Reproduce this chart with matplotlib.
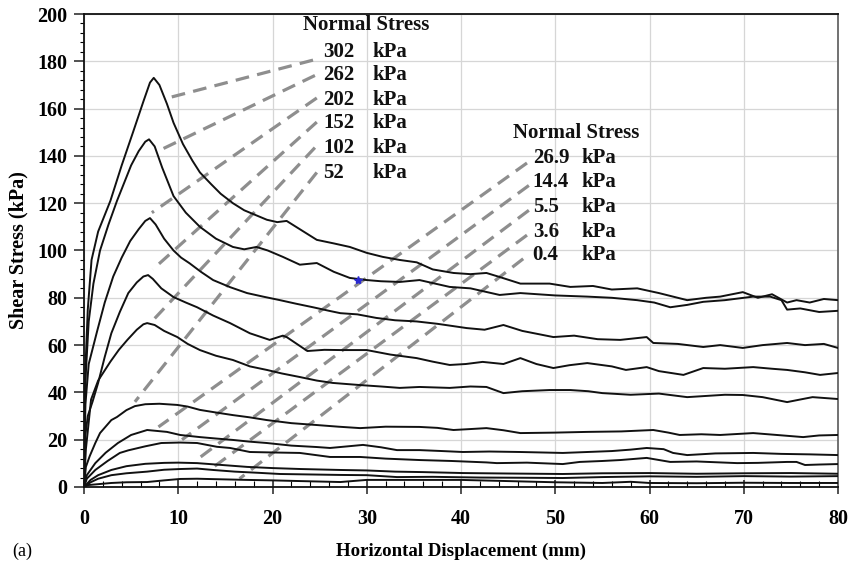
import matplotlib
matplotlib.use("Agg")
import matplotlib.pyplot as plt
from matplotlib.ticker import MultipleLocator

plt.rcParams['font.family'] = ['Liberation Serif', 'DejaVu Serif']

# ---------------- data ----------------
x302 = [0, 0.15, 0.4, 0.8, 1.5, 2.8, 4, 5.2, 6.3, 7.0, 7.4, 8, 8.8, 9.5, 10.5, 11.5, 12.3, 13.5, 14.5,
        15.8, 17, 18.2, 19.4, 20.5, 21.5, 22.9, 24.7, 26.5, 28.2, 30, 31.7, 33.5, 35.3, 37, 39.2, 41,
        42.7, 44.1, 46.3, 49.4, 51.6, 54, 56, 58.7, 61, 64, 66, 67.5, 69.9, 71.5, 73, 74.6, 75.6, 77,
        78.5, 80]
y302 = [0, 50, 75, 96, 108, 121, 136, 150, 163, 171, 173, 170, 162, 154, 145, 138, 133, 128, 124,
        120, 117, 115, 113, 112, 112.5, 109, 104.5, 103, 101.5, 99, 97.3, 96, 95, 92, 90.5, 90,
        90.5, 88.8, 86, 86, 84.6, 85, 83.5, 84, 82, 79, 80, 80.5, 82.4, 80, 81.5, 78, 79, 78,
        79.5, 79]

x262 = [0, 0.15, 0.5, 1.0, 1.7, 2.6, 3.5, 4.3, 5.0, 5.8, 6.5, 6.9, 7.5, 8.3, 9.5, 10.8, 12.3, 14,
        15.8, 17, 18.3, 19.5, 21.1, 22.9, 24.7, 26.5, 28.2, 30, 31.5, 33.5, 35.6, 38.8, 41, 44.1,
        46.3, 50, 53.4, 56, 58.7, 60.5, 62.2, 64, 65.7, 68, 71, 72.8, 74, 74.6, 76, 78, 80]
y262 = [0, 45, 70, 86, 100, 111, 121, 129, 136, 142, 146, 147, 144, 135, 123, 116, 110, 105,
        101.5, 100.5, 101.5, 100, 97.3, 94, 94.7, 91, 88.4, 87.5, 87, 86.7, 87.5, 84.6, 84, 81.2,
        82, 81, 80.5, 80, 79, 78, 76, 77, 78.3, 79, 80.5, 80.5, 79, 75, 75.5, 74, 74.5]

x202 = [0, 0.15, 0.5, 1.4, 2.2, 3.1, 4.0, 4.9, 5.8, 6.5, 7.0, 7.6, 8.5, 9.5, 10.3, 11.2, 12.4, 13.7,
        15.5, 17.3, 19, 20.8, 22.5, 24.3, 26, 27.2, 29, 31, 33, 35.3, 37.5, 40.6, 42.5, 44.5, 46.5,
        49.8, 52, 54.5, 56.9, 59.7, 60.4, 63, 65.7, 67.5, 69.9, 72, 74.6, 76.5, 78.5, 80]
y202 = [0, 35, 52, 66, 78, 89, 97, 104, 109, 112.5, 113.7, 111, 105, 100, 97, 94.6, 91, 87.5,
        84.5, 82, 80.5, 79, 77.5, 76, 74.5, 73.5, 73, 71.5, 70.5, 70, 69, 67.2, 66.5, 68.5, 66,
        63.4, 64, 62.5, 62.2, 63.4, 60.9, 60.5, 59.2, 60, 58.8, 60, 60.9, 60, 60.5, 58.8]

x152 = [0, 0.15, 0.4, 0.9, 1.5, 2.2, 2.9, 3.8, 4.7, 5.6, 6.3, 6.8, 7.3, 8.2, 9.5, 10.8, 12, 13.7,
        15.5, 17.6, 19.7, 21.1, 21.5, 23.7, 25.5, 27.2, 30, 32.5, 35.3, 37, 38.8, 40.5, 42.3, 44.5,
        46.3, 48, 49.8, 51.5, 53.4, 56, 57.5, 59.7, 61, 63.6, 65.7, 68, 71, 73, 74.6, 76.5, 78.1, 80]
y152 = [0, 22, 30, 36, 44, 55, 65, 74, 82, 86.5, 89, 89.6, 88, 84, 80.3, 78, 76, 72.5,
        69.3, 65, 62.2, 64, 63.4, 57.5, 58, 57.9, 57.9, 56, 54.5, 53, 51.6, 52, 52.9, 52,
        54.5, 52, 50.3, 51.5, 52.4, 51, 49.5, 50.7, 49, 47.4, 50.3, 50, 50.7, 50, 49.5, 48.5, 47.4, 48.2]

x102 = [0, 0.2, 0.75, 1.5, 2.8, 3.7, 4.6, 5.6, 6.3, 6.7, 7.5, 8.5, 9.9, 11, 12.3, 14, 15.8, 17.6,
        19.4, 21, 22.9, 24.7, 26.4, 28, 29.3, 31.5, 33.5, 35.6, 38.8, 41, 42.7, 44.5, 46.5, 49.4,
        51.6, 53.5, 55, 58, 61, 64, 66, 68, 69.9, 72, 74.6, 76, 77.3, 80]
y102 = [0, 16, 37, 45, 53, 58, 62.2, 66.5, 68.8, 69.3, 68.5, 66, 63.4, 60.5, 57.9, 55.5, 53.7, 51,
        49.5, 48, 46.5, 45, 44, 43.5, 43.1, 42.5, 41.9, 42.3, 41.9, 42.5, 42.3, 39.7, 40.5, 41,
        41, 40.5, 39.7, 39, 39.5, 38, 38.5, 39, 38.9, 38, 35.9, 37, 38, 37.2]

x52 = [0, 0.2, 0.6, 1.2, 1.7, 2.9, 3.5, 4.5, 5.4, 6.5, 8, 9.9, 11, 12.3, 14, 15.8, 17.5, 19.4, 22,
       24.7, 27, 29.3, 32, 35.6, 37.5, 39.2, 41, 42.7, 44.5, 46.3, 50, 53.4, 57, 60.4, 62, 63.2,
       65.5, 67.5, 71, 73.5, 76.3, 78, 80]
y52 = [0, 8.5, 13, 18.6, 22.8, 28.3, 29.6, 32.5, 34.2, 35, 35.2, 34.7, 34, 32.6, 31.5, 30.4, 29.5,
       28.3, 27, 26.2, 25.5, 24.9, 25.5, 25.4, 25, 24.1, 24.5, 24.9, 24, 22.8, 23, 23.3, 23.5,
       24.1, 23, 22, 22.3, 22, 22.8, 22, 21.1, 21.8, 22]

x269 = [0, 0.3, 1.2, 2.3, 3.6, 5, 6.7, 8.8, 10.2, 12.3, 14, 15.8, 17.5, 19.4, 22, 24.7, 26.1, 28,
        29.6, 31.5, 33.2, 35.6, 38, 40.2, 43, 46.3, 50.8, 53.4, 56, 58, 59.7, 61.5, 62.5, 64, 67,
        71, 74, 77, 80]
y269 = [0, 5, 10.1, 14.5, 18.6, 22, 24.1, 23.3, 22, 21.1, 20.5, 19.9, 19.2, 18.6, 17.5, 16.9,
        16.5, 17.2, 17.8, 16.8, 15.6, 15.6, 15.2, 14.8, 15, 14.8, 14.4, 14.8, 15.2, 15.8, 16.5, 16,
        14.4, 13.5, 14.2, 14.4, 14, 13.8, 13.5]

x144 = [0, 0.3, 1.2, 2.5, 3.8, 4.7, 6.5, 8.2, 10.2, 12, 14.1, 15.5, 17.6, 20, 22.9, 26.1, 29.3, 32,
        35.6, 39, 42.7, 43.8, 47, 50.8, 52.6, 55, 56.9, 59.7, 62.2, 65, 69.3, 71.5, 74.6, 75.6,
        76.5, 78, 80]
y144 = [0, 3.5, 7.2, 11, 14.4, 15.5, 17.2, 18.6, 18.8, 18.6, 17, 16.5, 14.8, 14.6, 14.4, 12.7,
        12.7, 12, 11.4, 11, 10.4, 10.1, 10.3, 9.7, 10.6, 11, 11.4, 12.3, 10.6, 10.8, 10.1, 10.2,
        10.6, 10.6, 9.3, 9.5, 9.7]

x55 = [0, 0.7, 1.5, 2.9, 4.5, 6.5, 8.5, 10, 12, 14, 17.3, 20, 23, 27.2, 30, 33, 36, 40.2, 45,
       50.8, 55, 60, 65, 70, 75, 80]
y55 = [0, 3, 5, 7.2, 8.8, 9.8, 10.2, 10.3, 10.1, 9.5, 8.5, 8, 7.6, 7.2, 7, 6.5, 6.3, 5.9, 5.7,
       5.5, 5.8, 5.9, 5.6, 5.8, 5.9, 5.6]

x36 = [0, 0.7, 1.5, 2.9, 4.5, 6.7, 8.5, 10.2, 12, 13.7, 16, 18.5, 20.8, 24, 27.2, 30, 33.2, 37,
       42, 47, 50.8, 55, 60, 65, 70, 75, 80]
y36 = [0, 2, 3.5, 5, 5.8, 6.5, 7.3, 7.6, 7.8, 7.2, 6.5, 6, 5.5, 5.3, 5.1, 5, 4.2, 4.3, 4, 3.9,
       3.8, 4.2, 4.5, 4.3, 4.6, 4.4, 4.6]

x04 = [0, 0.4, 1.5, 2.9, 4.5, 6.7, 8.5, 10.2, 12, 14, 17.3, 20, 23, 27.2, 30, 35, 40, 45, 50, 55,
       58, 60, 65, 70, 75, 80]
y04 = [0, 0.8, 1.2, 1.7, 2, 2.1, 2.8, 3.4, 3.5, 3.3, 3, 2.8, 2.5, 2.1, 3, 3, 3, 2.5, 2, 1.7,
       2.2, 1.7, 1.6, 1.8, 1.7, 1.7]

curves = [(x302, y302), (x262, y262), (x202, y202), (x152, y152), (x102, y102), (x52, y52),
          (x269, y269), (x144, y144), (x55, y55), (x36, y36), (x04, y04)]

# legend-like labels
high_labels = ["302", "262", "202", "152", "102", "52"]
low_labels = ["26.9", "14.4", "5.5", "3.6", "0.4"]
high_rows = [183.9, 174.2, 163.6, 153.9, 143.3, 132.8]
low_rows = [139.1, 129.0, 118.4, 107.8, 98.1]

# leader lines (label end -> curve end)
high_leaders = [((24.3, 180.5), (8.9, 164.5)), ((24.5, 174.0), (8.1, 142.5)),
                ((24.7, 164.5), (7.2, 116.0)), ((24.7, 154.3), (7.3, 92.0)),
                ((24.5, 143.5), (7.2, 70.0)), ((24.7, 133.0), (5.4, 36.0))]
low_leaders = [((47.0, 137.0), (7.9, 25.4)), ((47.2, 127.5), (10.4, 20.0)),
               ((47.2, 117.0), (11.8, 11.0)), ((47.0, 106.5), (13.7, 8.3)),
               ((46.6, 96.5), (16.5, 3.5))]

marker_pt = (29.1, 87.5)

# ---------------- figure ----------------
fig = plt.figure(figsize=(8.51, 5.62), dpi=100)
ax = fig.add_axes([84/851, 75/562, (838-84)/851, (487-14)/562])

ax.set_xlim(0, 80)
ax.set_ylim(0, 200)
ax.xaxis.set_major_locator(MultipleLocator(10))
ax.xaxis.set_minor_locator(MultipleLocator(2))
ax.yaxis.set_major_locator(MultipleLocator(20))
ax.yaxis.set_minor_locator(MultipleLocator(4))
ax.grid(True, which='major', color='#d6d6d6', linewidth=0.9, zorder=0)
ax.set_axisbelow(True)

for (p0, p1) in high_leaders + low_leaders:
    ax.plot([p0[0], p1[0]], [p0[1], p1[1]], color='#8e8e8e', linewidth=2.3,
            dashes=(4.3, 2.6), solid_capstyle='butt', dash_capstyle='butt', zorder=2)

for xs, ys in curves:
    ax.plot(xs, ys, color='#111111', linewidth=1.4, zorder=3)

ax.plot([marker_pt[0]], [marker_pt[1]], marker='*', color='#2a2ad0', markersize=6, zorder=4)

bold = dict(fontweight='bold', fontsize=15, color='#111111', va='center')
ax.text(23.2, 195.3, "Normal Stress", ha='left', **bold)
for lab, yy in zip(high_labels, high_rows):
    ax.text(25.4, yy, lab, ha='left', **bold)
    ax.text(30.6, yy, "kPa", ha='left', **bold)
ax.text(45.5, 149.7, "Normal Stress", ha='left', **bold)
for lab, yy in zip(low_labels, low_rows):
    ax.text(47.6, yy, lab, ha='left', **bold)
    ax.text(52.8, yy, "kPa", ha='left', **bold)

ax.tick_params(axis='both', which='major', labelsize=14.5, width=1.1, color='#222222')
ax.tick_params(axis='x', which='major', direction='inout', length=10, pad=11)
ax.tick_params(axis='y', which='major', direction='out', length=7, pad=5)
ax.tick_params(axis='x', which='minor', direction='in', length=4, width=0.8)
ax.tick_params(axis='y', which='minor', direction='out', length=3, width=0.8)
for lab in ax.get_xticklabels() + ax.get_yticklabels():
    lab.set_fontweight('bold')

for s in ['left', 'bottom', 'top']:
    ax.spines[s].set_color('#111111')
    ax.spines[s].set_linewidth(1.3)
ax.spines['right'].set_color('#666666')
ax.spines['right'].set_linewidth(1.3)

ax.set_xlabel("Horizontal Displacement (mm)", fontsize=13.6, fontweight='bold', labelpad=10)
ax.set_ylabel("Shear Stress (kPa)", fontsize=14.5, fontweight='bold', labelpad=6)
fig.text(12/851, 1 - 551/562, "(a)", fontsize=13, va='center', ha='left')

fig.savefig("out.png", dpi=100)
